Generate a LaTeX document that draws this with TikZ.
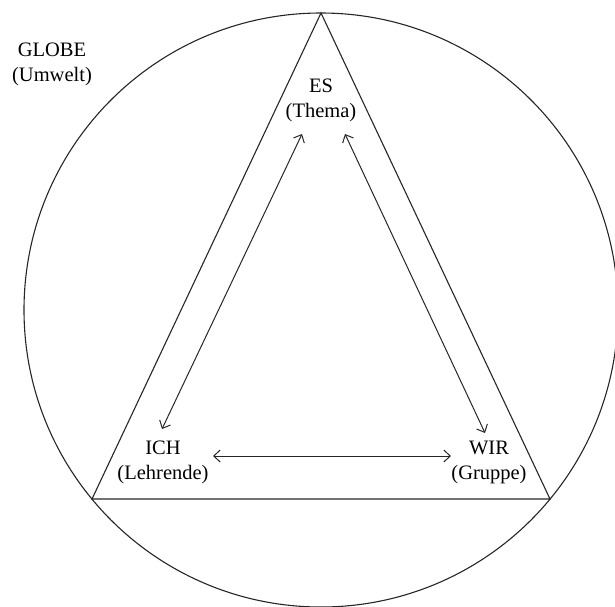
\documentclass[tikz,border=0pt]{standalone}
\usepackage{fontspec}
\setmainfont{Liberation Serif}
\usetikzlibrary{arrows.meta}
\begin{document}
\begin{tikzpicture}[x=1pt,y=-1pt,
  outline/.style={line width=1.1pt,draw=black!85},
  conn/.style={line width=1pt,draw=black!85,{Straight Barb[length=6.5pt,width=12pt]}-{Straight Barb[length=6.5pt,width=12pt]}},
  lbl/.style={align=center,font=\fontsize{20.5}{25}\selectfont,inner sep=0pt}]
\useasboundingbox (0,0) rectangle (615,606);
\clip (0,0) rectangle (615,606);
\coordinate (C) at (321,310);
\draw[outline] (C) circle (297);
\coordinate (A) at (321,13);
\coordinate (L) at (92,499);
\coordinate (R) at (550,499);
\draw[outline,line join=miter] (A) -- (L) -- (R) -- cycle;
\node[lbl] (globe) at (52,64) {GLOBE\\(Umwelt)};
\node[lbl] (es) at (321,100) {ES\\(Thema)};
\node[lbl] (ich) at (163,462) {ICH\\(Lehrende)};
\node[lbl] (wir) at (489,462) {WIR\\(Gruppe)};
\coordinate (esL) at (302,134);
\coordinate (ichT) at (162,429);
\coordinate (esR) at (345,134);
\coordinate (wirT) at (485,433);
\coordinate (ichR) at (213,456);
\coordinate (wirL) at (451,456);
\draw[conn] (esL) -- (ichT);
\draw[conn] (esR) -- (wirT);
\draw[conn] (ichR) -- (wirL);
\end{tikzpicture}
\end{document}
